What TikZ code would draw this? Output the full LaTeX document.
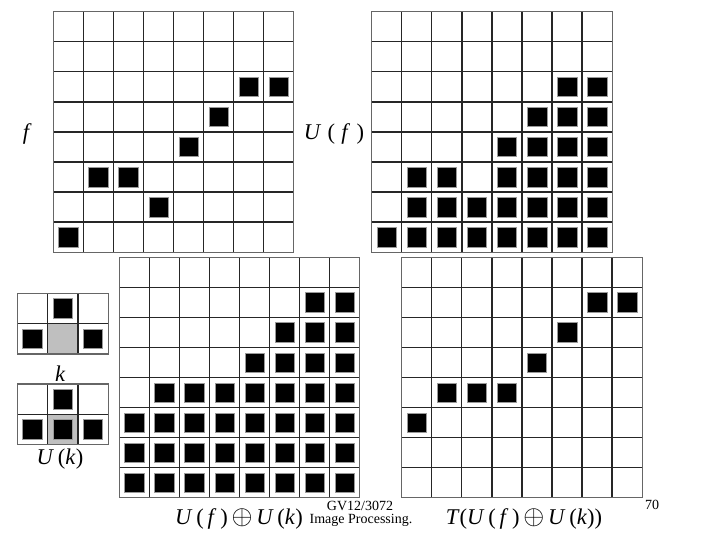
\documentclass[tikz,border=0pt]{standalone}
\usepackage{fontspec}
\setmainfont{Liberation Serif}
\usetikzlibrary{positioning}

\newcommand{\bigop}{\raisebox{0.02em}{\scalebox{1.3}{$\oplus$}}}

\begin{document}
\begin{tikzpicture}[
    x=1pt, y=-1pt,
    gridline/.style={draw=black!85, line width=1.3pt},
    frame/.style={draw=black!60, line width=1.3pt},
    pix/.style={fill=black, draw=black!40, line width=0.7pt},
    centre/.style={fill=black!25},
    lbl/.style={font=\fontsize{22.5}{22.5}\selectfont, inner sep=0pt},
    note/.style={font=\fontsize{14}{14}\selectfont, inner sep=0pt},
]
\useasboundingbox (0,0) rectangle (720,540);

%% f
\begin{scope}[shift={(53.3,11.7)}]
  \coordinate (gf) at (0,0);
  \foreach \i in {1,...,7} {
    \draw[gridline] (\i*30.06,0) -- (\i*30.06,240.5);
    \draw[gridline] (0,\i*30.06) -- (240.5,\i*30.06);
  }
  \draw[frame] (0,0) rectangle (240.5,240.5);
  \foreach \c/\r in {6/2,7/2,5/3,4/4,1/5,2/5,3/6,0/7}
    \filldraw[pix] (\c*30.06+5.4,\r*30.06+5.4) rectangle ++(19.5,19.5);
\end{scope}

%% U(f)
\begin{scope}[shift={(371.7,11.7)}]
  \coordinate (guf) at (0,0);
  \foreach \i in {1,...,7} {
    \draw[gridline] (\i*30.06,0) -- (\i*30.06,240.5);
    \draw[gridline] (0,\i*30.06) -- (240.5,\i*30.06);
  }
  \draw[frame] (0,0) rectangle (240.5,240.5);
  \foreach \c/\r in {6/2,7/2,5/3,6/3,7/3,4/4,5/4,6/4,7/4,1/5,2/5,4/5,5/5,6/5,7/5}
    \filldraw[pix] (\c*30.06+5.4,\r*30.06+5.4) rectangle ++(19.5,19.5);
  \foreach \c in {1,...,7}
    \filldraw[pix] (\c*30.06+5.4,6*30.06+5.4) rectangle ++(19.5,19.5);
  \foreach \c in {0,...,7}
    \filldraw[pix] (\c*30.06+5.4,7*30.06+5.4) rectangle ++(19.5,19.5);
\end{scope}

%% U(f) + U(k)
\begin{scope}[shift={(119.3,257.3)}]
  \coordinate (gsum) at (0,0);
  \foreach \i in {1,...,7} {
    \draw[gridline] (\i*30.06,0) -- (\i*30.06,240.5);
    \draw[gridline] (0,\i*30.06) -- (240.5,\i*30.06);
  }
  \draw[frame] (0,0) rectangle (240.5,240.5);
  \foreach \c/\r in {6/1,7/1,5/2,6/2,7/2,4/3,5/3,6/3,7/3}
    \filldraw[pix] (\c*30.06+5.4,\r*30.06+5.4) rectangle ++(19.5,19.5);
  \foreach \c in {1,...,7}
    \filldraw[pix] (\c*30.06+5.4,4*30.06+5.4) rectangle ++(19.5,19.5);
  \foreach \r in {5,6,7}
    \foreach \c in {0,...,7}
      \filldraw[pix] (\c*30.06+5.4,\r*30.06+5.4) rectangle ++(19.5,19.5);
\end{scope}

%% T(U(f) + U(k))
\begin{scope}[shift={(401.7,257.3)}]
  \coordinate (gt) at (0,0);
  \foreach \i in {1,...,7} {
    \draw[gridline] (\i*30.06,0) -- (\i*30.06,240.5);
    \draw[gridline] (0,\i*30.06) -- (240.5,\i*30.06);
  }
  \draw[frame] (0,0) rectangle (240.5,240.5);
  \foreach \c/\r in {6/1,7/1,5/2,4/3,1/4,2/4,3/4,0/5}
    \filldraw[pix] (\c*30.06+5.4,\r*30.06+5.4) rectangle ++(19.5,19.5);
\end{scope}

%% kernel k
\begin{scope}[shift={(17.3,293.3)}]
  \coordinate (gk) at (0,0);
  \fill[centre] (30.3,30.3) rectangle (60.6,60.6);
  \foreach \i in {1,2}
    \draw[gridline] (\i*30.3,0) -- (\i*30.3,60.6);
  \draw[gridline] (0,30.3) -- (90.9,30.3);
  \draw[frame] (0,0) rectangle (90.9,60.6);
  \foreach \c/\r in {1/0,0/1,2/1}
    \filldraw[pix] (\c*30.3+5.4,\r*30.3+5.4) rectangle ++(19.5,19.5);
\end{scope}

%% kernel U(k)
\begin{scope}[shift={(17.3,384)}]
  \coordinate (guk) at (0,0);
  \fill[centre] (30.3,30.3) rectangle (60.6,60.6);
  \foreach \i in {1,2}
    \draw[gridline] (\i*30.3,0) -- (\i*30.3,60.6);
  \draw[gridline] (0,30.3) -- (90.9,30.3);
  \draw[frame] (0,0) rectangle (90.9,60.6);
  \foreach \c/\r in {1/0,0/1,1/1,2/1}
    \filldraw[pix] (\c*30.3+5.4,\r*30.3+5.4) rectangle ++(19.5,19.5);
\end{scope}

%% Labels
\node[lbl] (lf) at (26,134) {\itshape f};
\node[lbl] (luf) at (334,134) {\textit{U}\;(\;\textit{f}\;)};
\node[lbl] (lk) at (60,374) {\itshape k};
\node[lbl] (luk) at (60,459) {\textit{U}\,(\textit{k})};
\node[lbl] (lsum) at (239,519) {\textit{U}\,(\,\textit{f}\,)\,\bigop\,\textit{U}\,(\textit{k})};
\node[lbl] (lt) at (524,519) {\textit{T}(\textit{U}\,(\,\textit{f}\,)\,\bigop\,\textit{U}\,(\textit{k}))};

\node[note] (course) at (360,506) {GV12/3072};
\node[note] (subject) at (361,520) {Image Processing.};
\node[note] (page) at (652,505) {70};

\end{tikzpicture}
\end{document}
